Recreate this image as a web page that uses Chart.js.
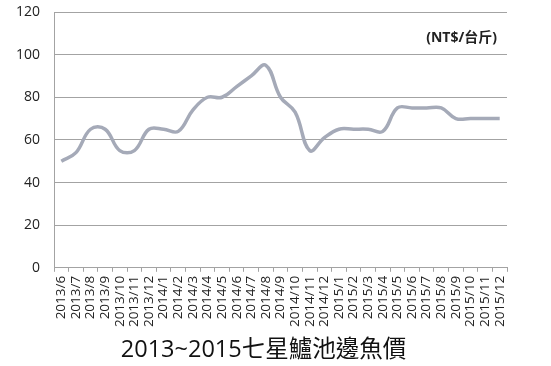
<!DOCTYPE html>
<html>
<head>
<meta charset="utf-8">
<script src="https://cdn.jsdelivr.net/npm/chart.js@4/dist/chart.umd.min.js"></script>
<style>
  html, body { margin: 0; padding: 0; background: #ffffff; }
  #wrap { width: 551px; height: 366px; position: relative; }
</style>
</head>
<body>
<div id="wrap"><canvas id="c" width="551" height="366"></canvas></div>
<script>
const categories = [
  "2013/6","2013/7","2013/8","2013/9","2013/10","2013/11","2013/12",
  "2014/1","2014/2","2014/3","2014/4","2014/5","2014/6","2014/7","2014/8","2014/9","2014/10","2014/11","2014/12",
  "2015/1","2015/2","2015/3","2015/4","2015/5","2015/6","2015/7","2015/8","2015/9","2015/10","2015/11","2015/12"
];
const prices = [
  50, 54, 65, 65, 55, 55, 65,
  65, 64, 74, 80, 80, 85, 90, 95, 80, 73, 55, 61,
  65, 65, 65, 64, 75, 75, 75, 75, 70, 70, 70, 70
];
const yTicks = [0, 20, 40, 60, 80, 100, 120];
const titleText = "2013~2015七星鱸池邊魚價";
const unitText = "(NT$/台斤)";

const FONT = '"Open Sans", "Noto Sans CJK TC", sans-serif';
const gridColor = "#a3a3a3";

const unitLabel = {
  id: "unitLabel",
  afterDraw(chart) {
    const ctx = chart.ctx;
    const a = chart.chartArea;
    ctx.save();
    ctx.font = 'bold 14px ' + FONT;
    ctx.fillStyle = "#222222";
    ctx.textAlign = "right";
    ctx.textBaseline = "middle";
    ctx.fillText(unitText, a.right - 10, a.top + 26);
    ctx.restore();
  }
};

// shift the bottom title a little to the right, as in the reference
const titleShift = {
  id: "titleShift",
  afterLayout(chart) {
    const t = chart.titleBlock;
    if (t) { t.left += 10; t.right += 10; }
  }
};

new Chart(document.getElementById("c"), {
  type: "line",
  data: {
    labels: categories,
    datasets: [{
      data: prices,
      borderColor: "#a5aab8",
      borderWidth: 3.5,
      pointRadius: 0,
      tension: 0.4,
      fill: false
    }]
  },
  options: {
    responsive: false,
    animation: false,
    layout: { padding: { left: 0, right: 44, top: 12, bottom: 2 } },
    plugins: {
      legend: { display: false },
      tooltip: { enabled: false },
      title: {
        display: true,
        position: "bottom",
        text: titleText,
        color: "#111111",
        font: { family: FONT, size: 23.5, weight: "normal" },
        padding: { top: 0, bottom: 0 }
      }
    },
    scales: {
      x: {
        type: "category",
        offset: true,
        grid: {
          offset: true,
          drawOnChartArea: false,
          drawTicks: true,
          tickLength: 4,
          color: gridColor
        },
        border: { color: gridColor, width: 1 },
        ticks: {
          autoSkip: false,
          maxRotation: 90,
          minRotation: 90,
          padding: 4,
          color: "#222222",
          font: { family: FONT, size: 13.5 }
        },
        afterFit(scale) { scale.height = 68; }
      },
      y: {
        min: 0,
        max: 120,
        afterBuildTicks(scale) { scale.ticks = yTicks.map(v => ({ value: v })); },
        grid: { drawTicks: true, tickLength: 14, tickColor: "rgba(0,0,0,0)", color: gridColor, lineWidth: 1 },
        border: { color: gridColor, width: 1 },
        ticks: {
          padding: 0,
          color: "#222222",
          font: { family: FONT, size: 14 }
        },
        afterFit(scale) { scale.width = 54; }
      }
    }
  },
  plugins: [unitLabel, titleShift]
});
</script>
</body>
</html>
